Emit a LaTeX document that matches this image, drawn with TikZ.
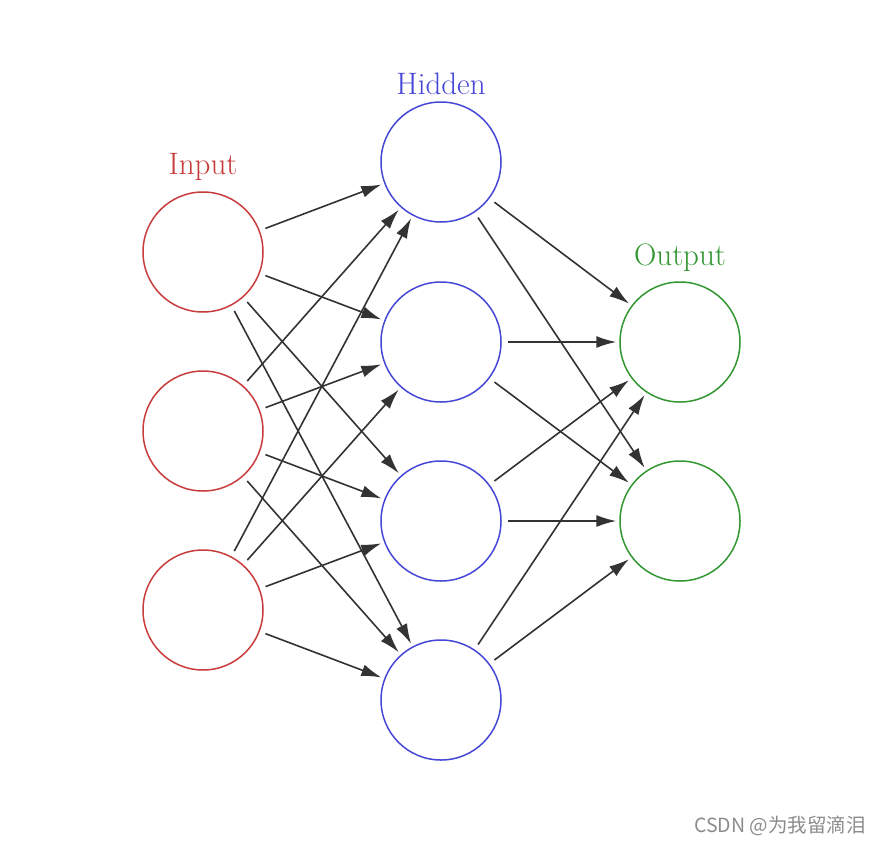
\documentclass[tikz,border=0pt]{standalone}
\usepackage{fontspec}
\newfontfamily\cjk{Noto Sans CJK SC}
\usetikzlibrary{arrows.meta}
\definecolor{inred}{RGB}{200,60,60}
\definecolor{hidblue}{RGB}{70,70,215}
\definecolor{outgreen}{RGB}{50,150,50}
\definecolor{wm}{RGB}{140,140,140}
\tikzset{
  neuron/.style={circle, draw, line width=1.5pt, minimum size=120pt, inner sep=0pt},
  inneuron/.style={neuron, draw=inred},
  hidneuron/.style={neuron, draw=hidblue},
  outneuron/.style={neuron, draw=outgreen},
  conn/.style={-{Latex[length=20pt,width=12pt]}, line width=1.6pt, draw=black!80, shorten <=6pt, shorten >=3pt},
  lbl/.style={font=\fontsize{31}{34}\selectfont, inner sep=0pt}
}
\begin{document}
\begin{tikzpicture}[x=1pt, y=-1pt]
\useasboundingbox (0,0) rectangle (880,846);
\fill[white] (0,0) rectangle (880,846);
\node[inneuron] (i1) at (203,252) {};
\node[inneuron] (i2) at (203,431) {};
\node[inneuron] (i3) at (203,610) {};
\node[hidneuron] (h1) at (441,162) {};
\node[hidneuron] (h2) at (441,342) {};
\node[hidneuron] (h3) at (441,521) {};
\node[hidneuron] (h4) at (441,700) {};
\node[outneuron] (o1) at (680,342) {};
\node[outneuron] (o2) at (680,521) {};
\node[lbl, text=inred] (li) at (203,167) {Input};
\node[lbl, text=hidblue] (lh) at (441,84) {Hidden};
\node[lbl, text=outgreen] (lo) at (680,258) {Output};
\foreach \i in {i1,i2,i3}
  \foreach \h in {h1,h2,h3,h4}
    \draw[conn] (\i) -- (\h);
\foreach \h in {h1,h2,h3,h4}
  \foreach \o in {o1,o2}
    \draw[conn] (\h) -- (\o);
\node[font=\cjk\fontsize{19.5}{21}\selectfont, text=wm, anchor=east, inner sep=0pt] (wmk) at (866,826) {CSDN @为我留滴泪};
\end{tikzpicture}
\end{document}
